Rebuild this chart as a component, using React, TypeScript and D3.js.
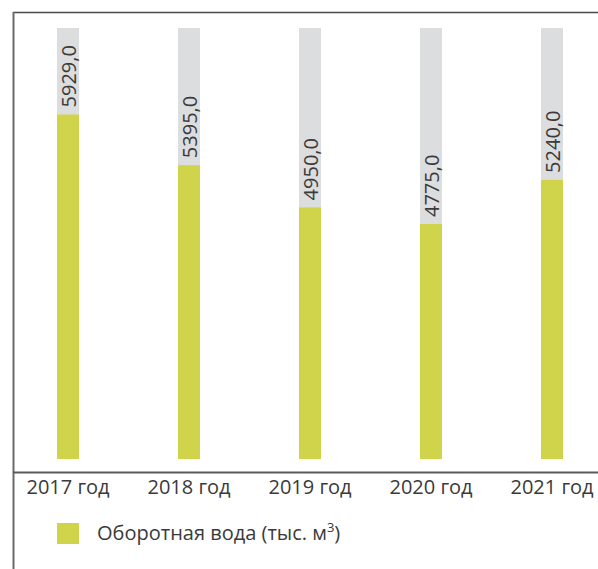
import React, { useEffect, useRef } from 'react';
import * as d3 from 'd3';

// Chart data
const years = ['2017 год', '2018 год', '2019 год', '2020 год', '2021 год'];
const values = [5929.0, 5395.0, 4950.0, 4775.0, 5240.0];
const legendLabel = 'Оборотная вода (тыс. м';

const App = () => {
  const svgRef = useRef<SVGSVGElement | null>(null);

  useEffect(() => {
    const width = 598;
    const height = 569;
    const font = '"Open Sans", "Noto Sans", sans-serif';

    const svg = d3.select(svgRef.current);
    svg.selectAll('*').remove();
    svg.attr('width', width).attr('height', height);

    // Scales
    const xScale = d3.scalePoint<string>()
      .domain(years)
      .range([68, 552]);

    // value axis does not start at zero in the original
    const yScale = d3.scaleLinear()
      .domain([2300, 6840])
      .range([459, 28]);

    const barWidth = 22;

    // Frame
    svg.append('line')
      .attr('x1', 13).attr('x2', width)
      .attr('y1', 12.5).attr('y2', 12.5)
      .attr('stroke', '#4a4a4a')
      .attr('stroke-width', 1.5);

    svg.append('line')
      .attr('x1', 13.5).attr('x2', 13.5)
      .attr('y1', 12).attr('y2', height)
      .attr('stroke', '#6a6a6a')
      .attr('stroke-width', 2);

    const g = svg.append('g');

    // Background tracks
    g.selectAll('rect.track')
      .data(years)
      .enter()
      .append('rect')
      .attr('class', 'track')
      .attr('x', d => (xScale(d) as number) - barWidth / 2)
      .attr('y', yScale.range()[1])
      .attr('width', barWidth)
      .attr('height', yScale.range()[0] - yScale.range()[1])
      .attr('fill', '#dcdddf');

    // Bars
    g.selectAll('rect.bar')
      .data(values)
      .enter()
      .append('rect')
      .attr('class', 'bar')
      .attr('x', (d, i) => (xScale(years[i]) as number) - barWidth / 2)
      .attr('y', d => yScale(d))
      .attr('width', barWidth)
      .attr('height', d => yScale.range()[0] - yScale(d))
      .attr('fill', '#cfd44b');

    // Value labels (rotated)
    g.selectAll('text.value')
      .data(values)
      .enter()
      .append('text')
      .attr('class', 'value')
      .attr('transform', (d, i) => `translate(${(xScale(years[i]) as number) + 7.5}, ${yScale(d) - 7}) rotate(-90)`)
      .attr('font-family', font)
      .attr('font-size', '20px')
      .attr('fill', '#3a3a3a')
      .text(d => d.toFixed(1).replace('.', ','));

    // Baseline
    svg.append('line')
      .attr('x1', 13).attr('x2', width)
      .attr('y1', 472.5).attr('y2', 472.5)
      .attr('stroke', '#5a5a5a')
      .attr('stroke-width', 2);

    // Category labels
    svg.selectAll('text.year')
      .data(years)
      .enter()
      .append('text')
      .attr('class', 'year')
      .attr('x', d => xScale(d) as number)
      .attr('y', 494)
      .attr('text-anchor', 'middle')
      .attr('font-family', font)
      .attr('font-size', '20px')
      .attr('fill', '#3a3a3a')
      .text(d => d);

    // Legend
    svg.append('rect')
      .attr('x', 57)
      .attr('y', 523)
      .attr('width', 22)
      .attr('height', 21)
      .attr('fill', '#cfd44b');

    const legendText = svg.append('text')
      .attr('x', 97)
      .attr('y', 540)
      .attr('font-family', font)
      .attr('font-size', '20px')
      .attr('fill', '#3a3a3a')
      .text(legendLabel);
    legendText.append('tspan')
      .attr('font-size', '13px')
      .attr('dy', -8)
      .text('3');
    legendText.append('tspan')
      .attr('dy', 8)
      .text(')');
  }, []);

  return (
    <svg ref={svgRef} style={{ position: 'absolute', left: 0, top: 0, background: '#fff' }}></svg>
  );
};

export default App;
